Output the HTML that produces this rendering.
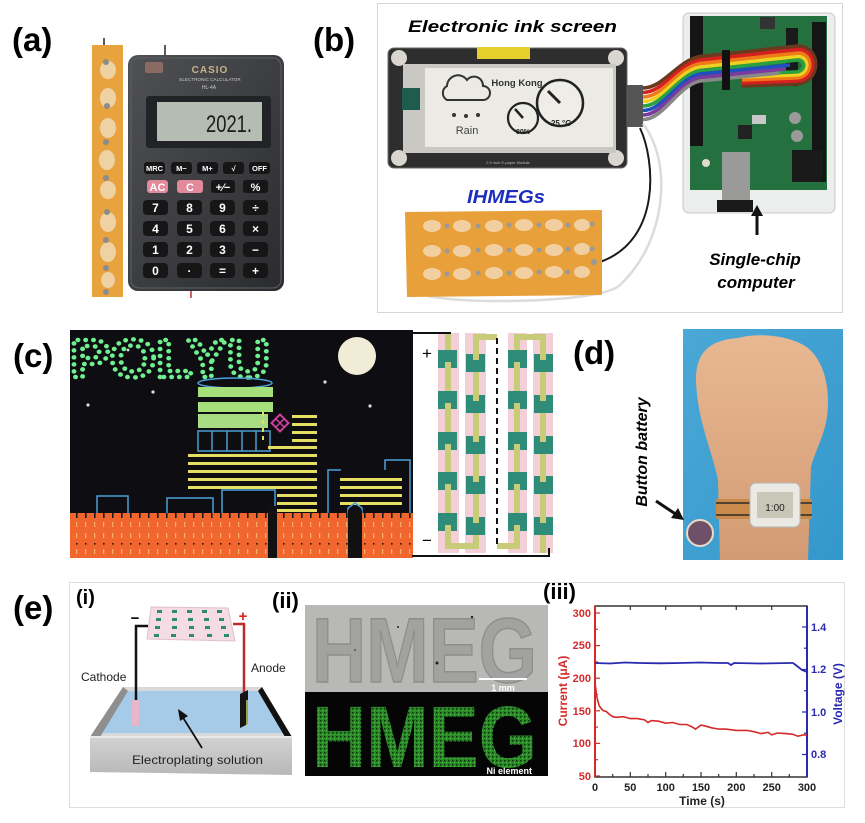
<!DOCTYPE html>
<html><head><meta charset="utf-8">
<style>
html,body{margin:0;padding:0;background:#fff;}
svg{display:block;}
text{font-family:"Liberation Sans",Arial,sans-serif;}
</style></head>
<body>
<svg width="865" height="823" viewBox="0 0 865 823" xmlns="http://www.w3.org/2000/svg">
<defs>
<linearGradient id="calc" x1="0" y1="0" x2="1" y2="1"><stop offset="0" stop-color="#505154"/><stop offset="1" stop-color="#2a2b2e"/></linearGradient>
<linearGradient id="skin" x1="0" y1="0" x2="0" y2="1"><stop offset="0" stop-color="#e8b893"/><stop offset="1" stop-color="#d39b74"/></linearGradient>
<linearGradient id="blue" x1="0" y1="0" x2="1" y2="1"><stop offset="0" stop-color="#4aa8d6"/><stop offset="1" stop-color="#3497cc"/></linearGradient>
<linearGradient id="tankf" x1="0" y1="0" x2="0" y2="1"><stop offset="0" stop-color="#d2d2d2"/><stop offset="1" stop-color="#b8b8b8"/></linearGradient>
<pattern id="wall" x="0" y="513" width="9" height="45" patternUnits="userSpaceOnUse">
<rect x="0" y="0" width="9" height="45" fill="#f0662e"/>
<rect x="4" y="0" width="1.6" height="5" fill="#1a1a1a"/>
<rect x="4.2" y="9" width="1" height="5" fill="#f7c070"/>
<rect x="4.2" y="20" width="1" height="5" fill="#f7c070"/>
<rect x="4" y="30" width="1.6" height="1.6" fill="#2a1a10"/>
<rect x="4.2" y="36" width="1" height="5" fill="#f7c070"/>
</pattern>
<pattern id="speck" width="4" height="4" patternUnits="userSpaceOnUse">
<rect width="4" height="4" fill="#2a8a28"/>
<rect x="0" y="0" width="1.5" height="1.5" fill="#0c300c"/>
<rect x="2" y="2" width="1" height="1" fill="#5cc050"/>
</pattern>
</defs>

<!-- ================= (a) ================= -->
<text x="12" y="51" font-size="33" font-weight="bold">(a)</text>
<line x1="104" y1="38" x2="104" y2="47" stroke="#222" stroke-width="1.5"/>
<rect x="92" y="45" width="31" height="252" fill="#e8a23e"/>
<g fill="#f0d8b0" opacity="0.9">
<ellipse cx="108" cy="70" rx="8" ry="9"/><ellipse cx="108" cy="98" rx="8" ry="10"/>
<ellipse cx="108" cy="128" rx="8" ry="10"/><ellipse cx="107" cy="160" rx="8" ry="10"/>
<ellipse cx="108" cy="190" rx="8" ry="9"/><ellipse cx="108" cy="222" rx="8" ry="10"/>
<ellipse cx="108" cy="252" rx="8" ry="10"/><ellipse cx="108" cy="280" rx="7" ry="8"/>
</g>
<g fill="#8c8c8a">
<circle cx="106" cy="62" r="3"/><circle cx="107" cy="106" r="3"/><circle cx="106" cy="142" r="3"/>
<circle cx="106" cy="178" r="3"/><circle cx="107" cy="212" r="3"/><circle cx="106" cy="240" r="3"/>
<circle cx="106" cy="268" r="3"/><circle cx="106" cy="292" r="3"/>
</g>
<line x1="165" y1="45" x2="165" y2="56" stroke="#222" stroke-width="1.5"/>
<line x1="191" y1="289" x2="191" y2="298" stroke="#c03030" stroke-width="1.5"/>
<rect x="128" y="55" width="156" height="236" rx="10" fill="url(#calc)"/>
<rect x="131" y="58" width="150" height="230" rx="8" fill="none" stroke="#5e5f62" stroke-width="1"/>
<rect x="145" y="62" width="18" height="11" rx="2" fill="#8a6a62"/>
<text x="210" y="73" font-size="10" font-weight="bold" fill="#c9b489" text-anchor="middle" letter-spacing="1">CASIO</text>
<text x="210" y="81" font-size="4.6" fill="#c8c8c8" text-anchor="middle">ELECTRONIC CALCULATOR</text>
<text x="209" y="89" font-size="5" fill="#c8c8c8" text-anchor="middle">HL-4A</text>
<rect x="146" y="96" width="125" height="52" rx="3" fill="#222326"/>
<rect x="157" y="102" width="105" height="39" fill="#b5bcb1"/>
<text x="206" y="132" font-size="24" fill="#1c1c1c" textLength="46" lengthAdjust="spacingAndGlyphs">2021.</text>
<g font-size="7.5" font-weight="bold" fill="#fff" text-anchor="middle">
<rect x="144" y="162" width="21" height="12" rx="3" fill="#161616"/><text x="154.5" y="171">MRC</text>
<rect x="171" y="162" width="21" height="12" rx="3" fill="#161616"/><text x="181.5" y="171">M−</text>
<rect x="197" y="162" width="21" height="12" rx="3" fill="#161616"/><text x="207.5" y="171">M+</text>
<rect x="223" y="162" width="21" height="12" rx="3" fill="#161616"/><text x="233.5" y="171">√</text>
<rect x="249" y="162" width="21" height="12" rx="3" fill="#161616"/><text x="259.5" y="171">OFF</text>
</g>
<g font-size="11" font-weight="bold" text-anchor="middle">
<rect x="147" y="180" width="21" height="13" rx="3" fill="#e08a9c"/><text x="157.5" y="191" fill="#fff">AC</text>
<rect x="177" y="180" width="26" height="13" rx="3" fill="#e08a9c"/><text x="190" y="191" fill="#fff">C</text>
<rect x="211" y="180" width="24" height="13" rx="3" fill="#161616"/><text x="223" y="191" fill="#fff">+⁄−</text>
<rect x="243" y="180" width="25" height="13" rx="3" fill="#161616"/><text x="255.5" y="191" fill="#fff">%</text>
</g>
<g font-size="12" font-weight="bold" fill="#fff" text-anchor="middle">
<rect x="143" y="200" width="25" height="15" rx="4" fill="#161616"/><text x="155.5" y="212">7</text>
<rect x="177" y="200" width="25" height="15" rx="4" fill="#161616"/><text x="189.5" y="212">8</text>
<rect x="210" y="200" width="25" height="15" rx="4" fill="#161616"/><text x="222.5" y="212">9</text>
<rect x="243" y="200" width="25" height="15" rx="4" fill="#161616"/><text x="255.5" y="212">÷</text>
<rect x="143" y="221" width="25" height="15" rx="4" fill="#161616"/><text x="155.5" y="233">4</text>
<rect x="177" y="221" width="25" height="15" rx="4" fill="#161616"/><text x="189.5" y="233">5</text>
<rect x="210" y="221" width="25" height="15" rx="4" fill="#161616"/><text x="222.5" y="233">6</text>
<rect x="243" y="221" width="25" height="15" rx="4" fill="#161616"/><text x="255.5" y="233">×</text>
<rect x="143" y="242" width="25" height="15" rx="4" fill="#161616"/><text x="155.5" y="254">1</text>
<rect x="177" y="242" width="25" height="15" rx="4" fill="#161616"/><text x="189.5" y="254">2</text>
<rect x="210" y="242" width="25" height="15" rx="4" fill="#161616"/><text x="222.5" y="254">3</text>
<rect x="243" y="242" width="25" height="15" rx="4" fill="#161616"/><text x="255.5" y="254">−</text>
<rect x="143" y="263" width="25" height="15" rx="4" fill="#161616"/><text x="155.5" y="275">0</text>
<rect x="177" y="263" width="25" height="15" rx="4" fill="#161616"/><text x="189.5" y="275">·</text>
<rect x="210" y="263" width="25" height="15" rx="4" fill="#161616"/><text x="222.5" y="275">=</text>
<rect x="243" y="263" width="25" height="15" rx="4" fill="#161616"/><text x="255.5" y="275">+</text>
</g>

<!-- ================= (b) ================= -->
<text x="313" y="51" font-size="33" font-weight="bold">(b)</text>
<rect x="377.5" y="3.5" width="465" height="309" fill="none" stroke="#d6d6d6"/>
<text x="408" y="32" font-size="17" font-weight="bold" font-style="italic" textLength="209" lengthAdjust="spacingAndGlyphs">Electronic ink screen</text>
<!-- e-ink module -->
<rect x="388" y="48" width="239" height="120" rx="6" fill="#2e2e2e" stroke="#6a6a6a"/>
<circle cx="399" cy="58" r="8" fill="#d8d6cf"/><circle cx="616" cy="58" r="8" fill="#d8d6cf"/>
<circle cx="399" cy="158" r="8" fill="#d8d6cf"/><circle cx="616" cy="158" r="8" fill="#d8d6cf"/>
<rect x="477" y="47" width="53" height="12" fill="#e6cf2a"/>
<rect x="403" y="64" width="213" height="89" fill="#c9c8c3"/>
<rect x="425" y="68" width="188" height="79" fill="#ebeae5"/>
<rect x="402" y="88" width="18" height="22" fill="#1f5c50"/>
<text x="508" y="164" font-size="4" fill="#bbb" text-anchor="middle">2.9 inch E-paper Module</text>
<path d="M447,100 a8,8 0 0 1 0,-14 a11,11 0 0 1 20,-6 a9,9 0 0 1 16,6 a7,7 0 0 1 0,14 Z" stroke="#333" stroke-width="2" fill="none"/>
<circle cx="454" cy="115" r="2" fill="#333"/><circle cx="466" cy="116" r="2" fill="#333"/><circle cx="478" cy="115" r="2" fill="#333"/>
<text x="467" y="134" font-size="11" fill="#444" text-anchor="middle">Rain</text>
<text x="517" y="86" font-size="9.5" font-weight="bold" fill="#333" text-anchor="middle">Hong Kong</text>
<circle cx="560" cy="103" r="23" fill="#eeede8" stroke="#222" stroke-width="2.5"/>
<line x1="560" y1="103" x2="548" y2="91" stroke="#222" stroke-width="3"/>
<text x="561" y="126" font-size="8" font-weight="bold" text-anchor="middle" fill="#222">25 °C</text>
<circle cx="523" cy="118" r="15" fill="#eeede8" stroke="#222" stroke-width="2.2"/>
<line x1="523" y1="118" x2="515" y2="109" stroke="#222" stroke-width="2.5"/>
<text x="523" y="134" font-size="7" font-weight="bold" text-anchor="middle" fill="#222">80%</text>
<rect x="627" y="85" width="16" height="42" fill="#555"/>
<!-- arduino -->
<rect x="683" y="13" width="152" height="200" rx="6" fill="#eceeed" stroke="#c8cac8"/>
<rect x="690" y="16" width="137" height="174" fill="#24713f"/>
<rect x="690" y="16" width="13" height="130" fill="#151515"/>
<rect x="812" y="22" width="14" height="160" fill="#151515"/>
<rect x="760" y="17" width="15" height="12" fill="#333"/>
<rect x="786" y="28" width="12" height="58" fill="#1a1a1a"/>
<circle cx="795" cy="118" r="6" fill="#9a9a9a"/><circle cx="797" cy="136" r="6" fill="#9a9a9a"/>
<rect x="752" y="115" width="14" height="9" fill="#c8c8c8"/>
<rect x="738" y="125" width="14" height="14" fill="#222"/>
<rect x="798" y="150" width="12" height="10" fill="#222"/>
<circle cx="706" cy="163" r="4" fill="#e0dccc"/>
<rect x="722" y="152" width="28" height="48" fill="#9a9a98"/>
<rect x="717" y="200" width="36" height="12" fill="#1a1a1a"/>
<rect x="792" y="150" width="31" height="32" fill="#1a1a1a"/>
<!-- ribbon cable -->
<g fill="none" stroke-width="3.6">
<path d="M643,88 C665,88 680,56 705,56 L798,46 C822,46 822,84 795,84 L742,86" stroke="#6b3a1e"/>
<path d="M643,92.5 C665,92.5 680,59.5 705,59.5 L798,49.5 C818,49.5 818,81 795,81 L742,83" stroke="#d62020"/>
<path d="M643,97 C665,97 680,63 705,63 L798,53 C814,53 814,78 795,78 L742,80" stroke="#f07a18"/>
<path d="M643,101.5 C665,101.5 680,66.5 705,66.5 L798,56.5 C810,56.5 810,75 795,75 L742,77" stroke="#f0d020"/>
<path d="M643,106 C665,106 680,70 705,70 L798,60 C806,60 806,72 795,72 L742,74" stroke="#2aa040"/>
<path d="M643,110.5 C665,110.5 680,73.5 705,73.5 L790,65" stroke="#2050c0"/>
<path d="M643,115 C665,115 680,77 705,77 L785,69" stroke="#7a3aa0"/>
<path d="M643,119.5 C665,119.5 680,80.5 705,80.5 L780,73" stroke="#888"/>
</g>
<rect x="722" y="50" width="8" height="40" fill="#111"/>
<!-- IHMEGs strip -->
<path d="M640,128 C655,160 662,240 600,262" fill="none" stroke="#1a1a1a" stroke-width="2"/>
<path d="M643,124 C672,160 668,240 620,285 C600,305 430,305 418,292" fill="none" stroke="#dcdcdc" stroke-width="2.5"/>
<polygon points="405,212 602,210 602,295 407,297" fill="#e8a03a"/>
<g fill="#f2cfa0">
<ellipse cx="432" cy="226" rx="9" ry="6"/><ellipse cx="462" cy="226" rx="9" ry="6"/><ellipse cx="494" cy="226" rx="9" ry="6"/><ellipse cx="524" cy="225" rx="9" ry="6"/><ellipse cx="554" cy="225" rx="9" ry="6"/><ellipse cx="582" cy="225" rx="8" ry="6"/>
<ellipse cx="432" cy="251" rx="9" ry="6"/><ellipse cx="462" cy="251" rx="9" ry="6"/><ellipse cx="494" cy="250" rx="9" ry="6"/><ellipse cx="524" cy="250" rx="9" ry="6"/><ellipse cx="554" cy="250" rx="9" ry="6"/><ellipse cx="582" cy="249" rx="8" ry="6"/>
<ellipse cx="432" cy="274" rx="9" ry="6"/><ellipse cx="462" cy="274" rx="9" ry="6"/><ellipse cx="494" cy="273" rx="9" ry="6"/><ellipse cx="524" cy="273" rx="9" ry="6"/><ellipse cx="554" cy="272" rx="9" ry="6"/><ellipse cx="582" cy="272" rx="8" ry="6"/>
</g>
<g fill="#9a9a98">
<circle cx="447" cy="226" r="2.5"/><circle cx="478" cy="226" r="2.5"/><circle cx="509" cy="225" r="2.5"/><circle cx="539" cy="225" r="2.5"/><circle cx="568" cy="225" r="2.5"/><circle cx="592" cy="224" r="2.5"/>
<circle cx="447" cy="251" r="2.5"/><circle cx="478" cy="250" r="2.5"/><circle cx="509" cy="250" r="2.5"/><circle cx="539" cy="250" r="2.5"/><circle cx="568" cy="249" r="2.5"/><circle cx="592" cy="249" r="2.5"/>
<circle cx="447" cy="274" r="2.5"/><circle cx="478" cy="273" r="2.5"/><circle cx="509" cy="273" r="2.5"/><circle cx="539" cy="272" r="2.5"/><circle cx="568" cy="272" r="2.5"/><circle cx="594" cy="262" r="3"/>
</g>
<text x="467" y="203" font-size="18" font-weight="bold" font-style="italic" fill="#1c2dbf" textLength="78" lengthAdjust="spacingAndGlyphs">IHMEGs</text>
<line x1="757" y1="235" x2="757" y2="214" stroke="#111" stroke-width="3"/>
<polygon points="757,205 751,216 763,216" fill="#111"/>
<text x="755" y="265" font-size="17" font-weight="bold" font-style="italic" text-anchor="middle">Single-chip</text>
<text x="756" y="288" font-size="17" font-weight="bold" font-style="italic" text-anchor="middle">computer</text>

<!-- ================= (c) ================= -->
<text x="13" y="367" font-size="33" font-weight="bold">(c)</text>
<rect x="70" y="330" width="343" height="228" fill="#0e0e12"/>
<text x="70" y="377" font-size="54" font-weight="bold" fill="none" stroke="#6ef08e" stroke-width="4.5" stroke-dasharray="0 7" stroke-linecap="round" textLength="200" lengthAdjust="spacingAndGlyphs">POLYU</text>
<circle cx="357" cy="356" r="19" fill="#f0ecd6"/>
<g fill="#ddd"><circle cx="153" cy="392" r="1.6"/><circle cx="88" cy="405" r="1.6"/><circle cx="325" cy="382" r="1.6"/><circle cx="370" cy="406" r="1.6"/><circle cx="128" cy="350" r="1.4"/></g>
<ellipse cx="235" cy="383" rx="37" ry="5" fill="none" stroke="#4aa0d8" stroke-width="1.5"/>
<rect x="198" y="387" width="75" height="10" fill="#a5e07a"/>
<rect x="198" y="402" width="75" height="10" fill="#a5e07a"/>
<rect x="198" y="414" width="70" height="14" fill="#a8dc82"/>
<rect x="198" y="431" width="72" height="20" fill="none" stroke="#4a9fd0" stroke-width="1.5"/>
<g stroke="#4a9fd0" stroke-width="1.5"><line x1="212" y1="431" x2="212" y2="451"/><line x1="227" y1="431" x2="227" y2="451"/><line x1="242" y1="431" x2="242" y2="451"/><line x1="256" y1="431" x2="256" y2="451"/></g>
<g fill="#e4df62">
<rect x="188" y="454" width="129" height="3"/><rect x="188" y="462" width="129" height="3"/><rect x="188" y="470" width="129" height="3"/><rect x="188" y="478" width="129" height="3"/><rect x="188" y="486" width="129" height="3"/>
<rect x="277" y="494" width="40" height="3"/><rect x="277" y="502" width="40" height="3"/><rect x="277" y="509" width="40" height="3"/>
<rect x="292" y="415" width="25" height="3"/><rect x="292" y="423" width="25" height="3"/><rect x="292" y="431" width="25" height="3"/><rect x="292" y="439" width="25" height="3"/><rect x="268" y="446" width="49" height="3"/>
<rect x="262" y="412" width="2" height="4"/><rect x="262" y="420" width="2" height="4"/><rect x="262" y="428" width="2" height="4"/><rect x="262" y="436" width="2" height="4"/>
<rect x="340" y="478" width="62" height="3"/><rect x="340" y="486" width="62" height="3"/><rect x="340" y="494" width="62" height="3"/><rect x="340" y="502" width="62" height="3"/>
</g>
<g transform="translate(280,423) rotate(45)"><rect x="-6" y="-6" width="12" height="12" fill="none" stroke="#d040a0" stroke-width="2"/><line x1="-6" y1="0" x2="6" y2="0" stroke="#d040a0" stroke-width="1.5"/><line x1="0" y1="-6" x2="0" y2="6" stroke="#d040a0" stroke-width="1.5"/></g>
<g fill="none" stroke="#4aa0d8" stroke-width="1.5">
<path d="M97,513 V496 H128 V513"/><path d="M167,513 V498 H213 V513"/><path d="M222,513 V490 H275 V513"/>
<path d="M328,513 V470 H341"/><path d="M385,470 V460 H410 V513"/>
<path d="M348,513 V508 L355,503 L362,508 V513"/>
</g>
<rect x="70" y="513" width="343" height="45" fill="url(#wall)"/>
<rect x="268" y="506" width="9" height="52" fill="#111"/>
<rect x="348" y="510" width="14" height="48" fill="#111"/>
<!-- schematic -->
<rect x="438" y="333" width="21" height="220" fill="#f3d0d8"/>
<rect x="465" y="333" width="21" height="220" fill="#f3d0d8"/>
<rect x="508" y="333" width="19" height="220" fill="#f3d0d8"/>
<rect x="533" y="333" width="20" height="220" fill="#f3d0d8"/>
<line x1="412" y1="333" x2="451" y2="333" stroke="#111" stroke-width="2"/>
<g fill="none" stroke="#c8cc78" stroke-width="6">
<path d="M448,334 V546 H476 V337 H497"/>
<path d="M497,546 H517 V337 H543 V553"/>
</g>
<line x1="497" y1="338" x2="497" y2="546" stroke="#111" stroke-width="2" stroke-dasharray="6 4"/>
<path d="M412,556 H549 V548" fill="none" stroke="#111" stroke-width="2"/>
<g fill="#2f8c78">
<rect x="438" y="350" width="19" height="18"/><rect x="438" y="391" width="19" height="18"/><rect x="438" y="432" width="19" height="18"/><rect x="438" y="472" width="19" height="18"/><rect x="438" y="513" width="19" height="18"/>
<rect x="466" y="354" width="19" height="18"/><rect x="466" y="395" width="19" height="18"/><rect x="466" y="436" width="19" height="18"/><rect x="466" y="476" width="19" height="18"/><rect x="466" y="517" width="19" height="18"/>
<rect x="508" y="350" width="19" height="18"/><rect x="508" y="391" width="19" height="18"/><rect x="508" y="432" width="19" height="18"/><rect x="508" y="472" width="19" height="18"/><rect x="508" y="513" width="19" height="18"/>
<rect x="534" y="354" width="19" height="18"/><rect x="534" y="395" width="19" height="18"/><rect x="534" y="436" width="19" height="18"/><rect x="534" y="476" width="19" height="18"/><rect x="534" y="517" width="19" height="18"/>
</g>
<g fill="#c8cc78">
<rect x="445" y="362" width="6" height="6"/><rect x="445" y="403" width="6" height="6"/><rect x="445" y="444" width="6" height="6"/><rect x="445" y="484" width="6" height="6"/><rect x="445" y="525" width="6" height="6"/>
<rect x="473" y="354" width="6" height="6"/><rect x="473" y="395" width="6" height="6"/><rect x="473" y="436" width="6" height="6"/><rect x="473" y="476" width="6" height="6"/><rect x="473" y="517" width="6" height="6"/>
<rect x="514" y="362" width="6" height="6"/><rect x="514" y="403" width="6" height="6"/><rect x="514" y="444" width="6" height="6"/><rect x="514" y="484" width="6" height="6"/><rect x="514" y="525" width="6" height="6"/>
<rect x="540" y="354" width="6" height="6"/><rect x="540" y="395" width="6" height="6"/><rect x="540" y="436" width="6" height="6"/><rect x="540" y="476" width="6" height="6"/><rect x="540" y="517" width="6" height="6"/>
</g>
<text x="427" y="359" font-size="17" text-anchor="middle">+</text>
<text x="427" y="546" font-size="17" text-anchor="middle">−</text>

<!-- ================= (d) ================= -->
<text x="573" y="364" font-size="33" font-weight="bold">(d)</text>
<rect x="683" y="329" width="160" height="231" fill="url(#blue)"/>
<path d="M720,560 L718,480 C712,450 697,420 696,380 C696,350 712,340 738,338 C760,332 792,336 808,348 C822,360 828,380 828,402 C828,432 816,447 811,467 L808,560 Z" fill="url(#skin)"/>
<rect x="716" y="499" width="96" height="20" fill="#c98a4a"/>
<line x1="716" y1="503" x2="812" y2="503" stroke="#2a2a2a" stroke-width="1.5"/>
<line x1="716" y1="515" x2="812" y2="515" stroke="#2a2a2a" stroke-width="1.5"/>
<rect x="750" y="483" width="50" height="44" rx="6" fill="#ebe9e3" stroke="#b8b8b8"/>
<rect x="757" y="492" width="36" height="26" fill="#c9c8b8"/>
<text x="775" y="511" font-size="10" text-anchor="middle" fill="#222">1:00</text>
<circle cx="700" cy="533" r="13" fill="#6e5068" stroke="#e8dcc8" stroke-width="2"/>
<text transform="translate(647,452) rotate(-90)" font-size="16" font-weight="bold" font-style="italic" text-anchor="middle">Button battery</text>
<line x1="656" y1="501" x2="677" y2="515" stroke="#111" stroke-width="3"/>
<polygon points="684,520 671,518 678,508" fill="#111"/>

<!-- ================= (e) ================= -->
<text x="13" y="619" font-size="33" font-weight="bold">(e)</text>
<rect x="69.5" y="582.5" width="775" height="225" fill="none" stroke="#dddddd"/>
<text x="76" y="604" font-size="20" font-weight="bold">(i)</text>
<text x="272" y="608" font-size="22" font-weight="bold">(ii)</text>
<text x="543" y="599" font-size="22" font-weight="bold">(iii)</text>
<!-- (i) -->
<polygon points="151,607 228,608 235,641 147,639" fill="#f4dbe4" stroke="#e0c0cc"/>
<g fill="#2e8a6a">
<rect x="157" y="610" width="5" height="3"/><rect x="172" y="610" width="5" height="3"/><rect x="187" y="610" width="5" height="3"/><rect x="202" y="610" width="5" height="3"/><rect x="217" y="610" width="5" height="3"/>
<rect x="156" y="618" width="5" height="3"/><rect x="172" y="618" width="5" height="3"/><rect x="188" y="618" width="5" height="3"/><rect x="204" y="618" width="5" height="3"/><rect x="219" y="618" width="5" height="3"/>
<rect x="155" y="626" width="5" height="3"/><rect x="172" y="626" width="5" height="3"/><rect x="189" y="626" width="5" height="3"/><rect x="205" y="626" width="5" height="3"/><rect x="221" y="626" width="5" height="3"/>
<rect x="154" y="634" width="5" height="3"/><rect x="171" y="634" width="5" height="3"/><rect x="189" y="634" width="5" height="3"/><rect x="207" y="634" width="5" height="3"/><rect x="224" y="634" width="5" height="3"/>
</g>
<text x="135" y="623" font-size="15" font-weight="bold" text-anchor="middle">−</text>
<text x="243" y="621" font-size="15" font-weight="bold" fill="#d22" text-anchor="middle">+</text>
<!-- tank -->
<polygon points="123,687 262,687 292,737 90,737" fill="#d8d8d8"/>
<polygon points="128,691 258,691 283,733 100,733" fill="#a6cbe8"/>
<polygon points="123,687 90,737 100,737 128,691" fill="#8e8e8e"/>
<polygon points="262,687 292,737 285,737 258,691" fill="#111"/>
<polygon points="90,737 292,737 292,775 90,772" fill="url(#tankf)"/>
<line x1="90" y1="737" x2="292" y2="737" stroke="#e8e8e8" stroke-width="2"/>
<path d="M148,626 H136 V720" fill="none" stroke="#111" stroke-width="2.5"/>
<path d="M233,624 H244 V716" fill="none" stroke="#c0282a" stroke-width="2.5"/>
<rect x="132" y="700" width="7" height="26" fill="#e7b6c8"/>
<polygon points="240,694 248,690 248,724 240,728" fill="#151515"/>
<line x1="247" y1="700" x2="247" y2="726" stroke="#c8d060" stroke-width="1.5"/>
<line x1="202" y1="748" x2="182" y2="716" stroke="#111" stroke-width="1.8"/>
<polygon points="178,709 180,721 188,716" fill="#111"/>
<text x="81" y="681" font-size="12" fill="#222">Cathode</text>
<text x="251" y="672" font-size="12" fill="#222">Anode</text>
<text x="132" y="764" font-size="12" fill="#222" textLength="131" lengthAdjust="spacingAndGlyphs">Electroplating solution</text>
<!-- (ii) -->
<rect x="305" y="605" width="243" height="87" fill="#b8b8b6"/>
<text x="312" y="682" font-size="92" font-weight="bold" fill="#a2a2a0" stroke="#8e8e8c" stroke-width="1.5" textLength="225" lengthAdjust="spacingAndGlyphs">HMEG</text>
<g fill="#222"><circle cx="472" cy="617" r="1.2"/><circle cx="437" cy="663" r="1.5"/><circle cx="398" cy="627" r="1"/><circle cx="355" cy="650" r="0.8"/></g>
<line x1="479" y1="679" x2="527" y2="679" stroke="#fff" stroke-width="2"/>
<text x="503" y="691" font-size="9" font-weight="bold" fill="#fff" text-anchor="middle">1 mm</text>
<rect x="305" y="692" width="243" height="84" fill="#050505"/>
<text x="312" y="767" font-size="87" font-weight="bold" fill="url(#speck)" textLength="225" lengthAdjust="spacingAndGlyphs">HMEG</text>
<text x="532" y="774" font-size="9" font-weight="bold" fill="#fff" text-anchor="end">Ni element</text>
<!-- (iii) plot -->
<rect x="595" y="606" width="212" height="171" fill="none" stroke="#333" stroke-width="1.5"/>
<line x1="595" y1="606" x2="595" y2="777" stroke="#d42a2a" stroke-width="2"/>
<line x1="807" y1="606" x2="807" y2="777" stroke="#2a2ab0" stroke-width="2"/>
<g stroke="#d42a2a" stroke-width="1.2">
<line x1="595" y1="776" x2="600" y2="776"/><line x1="595" y1="743.4" x2="600" y2="743.4"/><line x1="595" y1="710.8" x2="600" y2="710.8"/><line x1="595" y1="678.2" x2="600" y2="678.2"/><line x1="595" y1="645.6" x2="600" y2="645.6"/><line x1="595" y1="613" x2="600" y2="613"/>
<line x1="595" y1="759.7" x2="598" y2="759.7"/><line x1="595" y1="727.1" x2="598" y2="727.1"/><line x1="595" y1="694.5" x2="598" y2="694.5"/><line x1="595" y1="661.9" x2="598" y2="661.9"/><line x1="595" y1="629.3" x2="598" y2="629.3"/>
</g>
<g stroke="#2a2ab0" stroke-width="1.2">
<line x1="802" y1="754.5" x2="807" y2="754.5"/><line x1="802" y1="712" x2="807" y2="712"/><line x1="802" y1="669.5" x2="807" y2="669.5"/><line x1="802" y1="627" x2="807" y2="627"/>
<line x1="804" y1="733.2" x2="807" y2="733.2"/><line x1="804" y1="690.7" x2="807" y2="690.7"/><line x1="804" y1="648.2" x2="807" y2="648.2"/>
</g>
<g stroke="#333" stroke-width="1.2">
<line x1="630.3" y1="777" x2="630.3" y2="772"/><line x1="665.7" y1="777" x2="665.7" y2="772"/><line x1="701" y1="777" x2="701" y2="772"/><line x1="736.3" y1="777" x2="736.3" y2="772"/><line x1="771.7" y1="777" x2="771.7" y2="772"/>
<line x1="612.7" y1="777" x2="612.7" y2="774"/><line x1="648" y1="777" x2="648" y2="774"/><line x1="683.3" y1="777" x2="683.3" y2="774"/><line x1="718.7" y1="777" x2="718.7" y2="774"/><line x1="754" y1="777" x2="754" y2="774"/><line x1="789.3" y1="777" x2="789.3" y2="774"/>
<line x1="630.3" y1="606" x2="630.3" y2="610"/><line x1="665.7" y1="606" x2="665.7" y2="610"/><line x1="701" y1="606" x2="701" y2="610"/><line x1="736.3" y1="606" x2="736.3" y2="610"/><line x1="771.7" y1="606" x2="771.7" y2="610"/>
</g>
<polyline fill="none" stroke="#d42a2a" stroke-width="1.6" points="595,683.4 595.7,688 596.4,694.5 597.8,701 599.2,705.6 601.4,708.8 603.5,710.8 606.3,711.5 609.1,714.1 612.7,716.7 616.2,717.3 623.3,716.7 630.3,718.6 637.4,718.6 644.5,719.9 648,722.5 651.5,720.6 658.6,721.2 665.7,723.2 672.7,722.5 679.8,724.5 686.9,724.5 692.5,727.1 695.4,729.1 701,725.1 704.5,725.8 711.6,727.8 718.7,729.1 725.7,729.1 736.3,730.4 746.9,730.4 754,731.7 761.1,733.6 768.1,732.3 771.7,734.9 777.3,733 785.8,733.6 792.9,734.3 797.8,736.2 803.5,734.9 807,734.9"/>
<polyline fill="none" stroke="#2a2ab0" stroke-width="1.8" points="595,663 610,663.5 625,662.5 640,663 660,663.3 680,663 700,662.5 720,663 728,663 731,665 734,663 760,663.5 790,663 793,663 797,666 802,670 807,672"/>
<g font-size="11" font-weight="bold" fill="#d42a2a" text-anchor="end">
<text x="591" y="617">300</text><text x="591" y="649">250</text><text x="591" y="682">200</text><text x="591" y="715">150</text><text x="591" y="747">100</text><text x="591" y="780">50</text>
</g>
<g font-size="11" font-weight="bold" fill="#2a2ab0">
<text x="811" y="631">1.4</text><text x="811" y="673">1.2</text><text x="811" y="716">1.0</text><text x="811" y="758">0.8</text>
</g>
<g font-size="11" font-weight="bold" fill="#222" text-anchor="middle">
<text x="595" y="791">0</text><text x="630.3" y="791">50</text><text x="665.7" y="791">100</text><text x="701" y="791">150</text><text x="736.3" y="791">200</text><text x="771.7" y="791">250</text><text x="807" y="791">300</text>
</g>
<text x="702" y="805" font-size="12" font-weight="bold" text-anchor="middle" fill="#222">Time (s)</text>
<text transform="translate(567,691) rotate(-90)" font-size="12" font-weight="bold" fill="#d42a2a" text-anchor="middle">Current (μA)</text>
<text transform="translate(842,694) rotate(-90)" font-size="12" font-weight="bold" fill="#2a2ab0" text-anchor="middle">Voltage (V)</text>
</svg>
</body></html>
